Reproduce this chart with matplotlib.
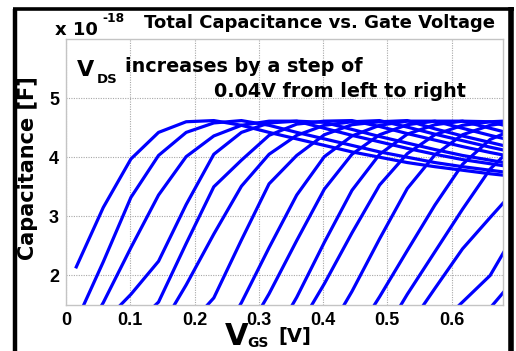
import matplotlib
matplotlib.use("Agg")
import matplotlib.pyplot as plt
from matplotlib.lines import Line2D

# ---------------- data ----------------
vgs = [0.015, 0.058, 0.101, 0.144, 0.187, 0.230, 0.273, 0.316, 0.359,
       0.402, 0.445, 0.488, 0.531, 0.574, 0.617, 0.660, 0.703]

c01 = [2.12, 3.15, 3.97, 4.42, 4.60, 4.62, 4.54, 4.42, 4.31, 4.20, 4.09, 4.00, 3.91, 3.84, 3.78, 3.72, 3.67]
c02 = [1.20, 2.23, 3.32, 4.03, 4.42, 4.58, 4.62, 4.54, 4.42, 4.31, 4.20, 4.09, 4.00, 3.91, 3.84, 3.78, 3.72]
c03 = [0.75, 1.54, 2.47, 3.36, 4.01, 4.36, 4.54, 4.61, 4.61, 4.49, 4.37, 4.26, 4.15, 4.05, 3.96, 3.89, 3.82]
c04 = [0.60, 1.20, 1.68, 2.24, 3.20, 4.05, 4.42, 4.58, 4.61, 4.59, 4.47, 4.35, 4.24, 4.13, 4.03, 3.95, 3.87]
c05 = [0.30, 0.70, 1.10, 1.55, 2.54, 3.50, 3.95, 4.37, 4.56, 4.61, 4.62, 4.52, 4.40, 4.29, 4.18, 4.08, 3.99]
c06 = [0.20, 0.40, 0.70, 1.05, 1.84, 2.70, 3.51, 4.05, 4.37, 4.54, 4.60, 4.62, 4.51, 4.39, 4.28, 4.17, 4.07]
c07 = [0.20, 0.30, 0.50, 0.80, 1.10, 1.62, 2.60, 3.55, 4.03, 4.38, 4.55, 4.60, 4.62, 4.48, 4.36, 4.25, 4.14]
c08 = [0.10, 0.20, 0.30, 0.40, 0.50, 0.74, 1.54, 2.47, 3.36, 4.01, 4.36, 4.54, 4.61, 4.61, 4.49, 4.37, 4.26]
c09 = [0.10, 0.10, 0.20, 0.30, 0.40, 0.50, 0.89, 1.69, 2.59, 3.46, 4.05, 4.38, 4.55, 4.61, 4.61, 4.49, 4.37]
c10 = [0.10, 0.10, 0.10, 0.20, 0.30, 0.40, 0.50, 0.82, 1.63, 2.56, 3.44, 4.05, 4.39, 4.55, 4.61, 4.60, 4.48]
c11 = [0.10, 0.10, 0.10, 0.10, 0.20, 0.30, 0.40, 0.60, 1.07, 1.86, 2.72, 3.53, 4.06, 4.38, 4.54, 4.60, 4.62]
c12 = [0.10, 0.10, 0.10, 0.10, 0.10, 0.20, 0.30, 0.40, 0.60, 0.93, 1.73, 2.62, 3.47, 4.04, 4.38, 4.54, 4.61]
c13 = [0.10, 0.10, 0.10, 0.10, 0.10, 0.10, 0.20, 0.30, 0.40, 0.60, 0.90, 1.64, 2.42, 3.19, 3.88, 4.30, 4.50]
c14 = [0.10, 0.10, 0.10, 0.10, 0.10, 0.10, 0.10, 0.20, 0.30, 0.40, 0.60, 0.90, 1.68, 2.40, 3.12, 3.80, 4.25]
c15 = [0.10, 0.10, 0.10, 0.10, 0.10, 0.10, 0.10, 0.10, 0.20, 0.30, 0.40, 0.60, 1.10, 1.78, 2.45, 2.98, 3.50]
c16 = [0.10, 0.10, 0.10, 0.10, 0.10, 0.10, 0.10, 0.10, 0.10, 0.20, 0.30, 0.40, 0.60, 1.10, 1.55, 2.00, 2.80]
c17 = [0.10, 0.10, 0.10, 0.10, 0.10, 0.10, 0.10, 0.10, 0.10, 0.10, 0.20, 0.30, 0.40, 0.60, 1.00, 1.45, 2.00]
curves = [c01, c02, c03, c04, c05, c06, c07, c08, c09, c10, c11, c12, c13, c14, c15, c16, c17]

xticks = [0, 0.1, 0.2, 0.3, 0.4, 0.5, 0.6]
xticklabels = ["0", "0.1", "0.2", "0.3", "0.4", "0.5", "0.6"]
yticks = [2, 3, 4, 5]
yticklabels = ["2", "3", "4", "5"]

title = "Total Capacitance vs. Gate Voltage"
ylabel = "Capacitance [F]"

# ---------------- style ----------------
plt.rcParams["font.family"] = ["DejaVu Sans"]
plt.rcParams["font.weight"] = "bold"
TICKFONT = ["Liberation Sans", "DejaVu Sans"]

W, H = 516, 351
fig = plt.figure(figsize=(W / 100, H / 100), dpi=100)
fig.patch.set_facecolor("white")

def fx(px):
    return px / W

def fy(py):
    return 1 - py / H

ax = fig.add_axes([fx(66), fy(305), (503 - 66) / W, (305 - 39) / H])
for ys in curves:
    ax.plot(vgs, ys, color="#0000ff", lw=2.3, solid_joinstyle="round",
            solid_capstyle="butt")

ax.set_xlim(0, 0.68)
ax.set_ylim(1.5, 6)
ax.set_xticks(xticks)
ax.set_xticklabels(xticklabels)
ax.set_yticks(yticks)
ax.set_yticklabels(yticklabels)
ax.tick_params(length=0, labelsize=13, pad=5)
for lab in ax.get_xticklabels() + ax.get_yticklabels():
    lab.set_fontweight("bold")
    lab.set_family(TICKFONT)
ax.grid(True, color="#a8a8a8", lw=0.8, linestyle=(0, (1, 1.2)))
for sp in ax.spines.values():
    sp.set_color("#c4c4c4")
    sp.set_linewidth(1.0)

# texts
fig.text(fx(319), fy(28), title, ha="center", va="baseline", fontsize=13,
         fontweight="bold")
fig.text(fx(55), fy(35), "x 10", ha="left", va="baseline", fontsize=13,
         fontweight="bold")
fig.text(fx(102), fy(22), "-18", ha="left", va="baseline", fontsize=8.8,
         fontweight="bold")

fig.text(fx(77), fy(76), "V", ha="left", va="baseline", fontsize=16,
         fontweight="bold")
fig.text(fx(97), fy(83), "DS", ha="left", va="baseline", fontsize=9.5,
         fontweight="bold")
fig.text(fx(125), fy(72), "increases by a step of", ha="left", va="baseline",
         fontsize=13.8, fontweight="bold")
fig.text(fx(466), fy(97), "0.04V from left to right", ha="right",
         va="baseline", fontsize=13.8, fontweight="bold")

fig.text(fx(28), fy(168), ylabel, ha="center", va="center", rotation=90,
         fontsize=15, fontweight="bold")

fig.text(fx(225), fy(345), "V", ha="left", va="baseline", fontsize=22,
         fontweight="bold")
fig.text(fx(247), fy(347), "GS", ha="left", va="baseline", fontsize=10,
         fontweight="bold")
fig.text(fx(278), fy(342), "[V]", ha="left", va="baseline", fontsize=14,
         fontweight="bold")

# black frame (left, top, right)
fig.add_artist(Line2D([fx(15), fx(15)], [fy(8.5), 0], transform=fig.transFigure,
                      color="black", lw=3.2, solid_capstyle="butt"))
fig.add_artist(Line2D([fx(13), fx(514)], [fy(8.5), fy(8.5)], transform=fig.transFigure,
                      color="black", lw=2.6, solid_capstyle="butt"))
fig.add_artist(Line2D([fx(511), fx(511)], [fy(7), 0], transform=fig.transFigure,
                      color="black", lw=4.0, solid_capstyle="butt"))

fig.savefig("out.png", dpi=100, facecolor="white")
